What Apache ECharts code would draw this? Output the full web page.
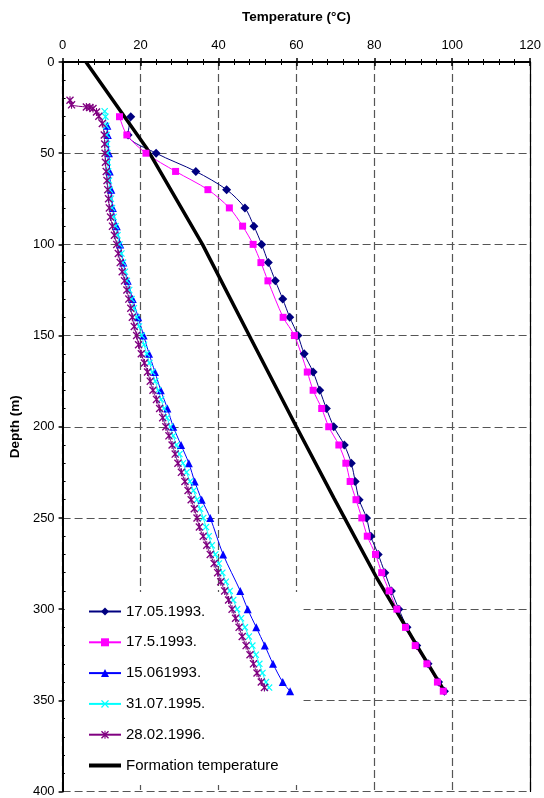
<!DOCTYPE html>
<html>
<head>
<meta charset="utf-8">
<script src="https://cdn.jsdelivr.net/npm/echarts@6/dist/echarts.min.js"></script>
<style>
  html, body { margin: 0; padding: 0; background: #fff; }
  #chart { width: 544px; height: 798px; }
</style>
</head>
<body>
<div id="chart"></div>
<script>
// Temperature logs (°C) against depth (m)
const xTicks = [0, 20, 40, 60, 80, 100, 120];
const yTicks = [0, 50, 100, 150, 200, 250, 300, 350, 400];

const seriesNames = ['17.05.1993.', '17.5.1993.', '15.061993.', '31.07.1995.', '28.02.1996.', 'Formation temperature'];

const depth1 = [30, 40, 50, 60, 70, 80, 90, 100, 110, 120, 130, 140, 150, 160, 170, 180, 190, 200, 210, 220, 230, 240, 250, 260, 270, 280, 290, 300, 310, 320, 330, 340, 345];
const temp1  = [17.5, 16.8, 24.0, 34.2, 42.1, 46.8, 49.1, 51.1, 52.8, 54.6, 56.5, 58.3, 60.4, 62.0, 64.3, 66.0, 67.7, 69.6, 72.3, 74.1, 75.1, 76.1, 78.0, 79.1, 81.0, 82.7, 84.4, 86.3, 88.4, 90.9, 93.8, 96.5, 98.0];

const depth2 = [30, 40, 50, 60, 70, 80, 90, 100, 110, 120, 140, 150, 170, 180, 190, 200, 210, 220, 230, 240, 250, 260, 270, 280, 290, 300, 310, 320, 330, 340, 345];
const temp2  = [14.6, 16.5, 21.4, 29.0, 37.3, 42.8, 46.2, 48.9, 50.9, 52.7, 56.6, 59.5, 62.8, 64.3, 66.5, 68.3, 70.9, 72.7, 73.8, 75.3, 76.8, 78.2, 80.3, 81.9, 83.8, 85.8, 88.0, 90.5, 93.5, 96.2, 97.7];

const depth3 = [35, 40, 50, 60, 70, 80, 90, 100, 110, 120, 130, 140, 150, 160, 170, 180, 190, 200, 210, 220, 230, 240, 250, 270, 290, 300, 310, 320, 330, 340, 345];
const temp3  = [11.5, 11.6, 11.9, 12.1, 12.5, 12.9, 13.9, 14.8, 15.6, 16.7, 18.0, 19.4, 20.8, 22.2, 23.7, 25.2, 26.9, 28.4, 30.4, 32.4, 33.9, 35.7, 37.9, 41.2, 45.6, 47.5, 49.7, 51.9, 54.0, 56.5, 58.4];

const depth4 = [27, 30, 35, 40, 45, 50, 55, 60, 65, 70, 75, 80, 85, 90, 95, 100, 105, 110, 115, 120, 125, 130, 135, 140, 145, 150, 155, 160, 165, 170, 175, 180, 185, 190, 195, 200, 205, 210, 215, 220, 225, 230, 235, 240, 245, 250, 255, 260, 265, 270, 275, 280, 285, 290, 295, 300, 305, 310, 315, 320, 325, 330, 335, 340, 343];
const temp4  = [10.8, 11.0, 11.2, 11.3, 11.4, 11.5, 11.6, 11.7, 11.9, 12.1, 12.4, 12.7, 13.1, 13.6, 14.1, 14.6, 15.1, 15.5, 16.0, 16.5, 17.1, 17.7, 18.3, 19.0, 19.6, 20.3, 20.9, 21.6, 22.3, 23.0, 23.8, 24.5, 25.3, 26.0, 26.8, 27.6, 28.4, 29.2, 30.0, 30.9, 31.8, 32.7, 33.6, 34.5, 35.3, 36.1, 36.8, 37.5, 38.3, 39.2, 40.1, 41.0, 41.9, 42.9, 43.8, 44.8, 45.8, 46.8, 47.8, 48.7, 49.6, 50.5, 51.3, 52.2, 53.0];

const depth5 = [21, 23.5, 24.7, 25, 25.5, 27.4, 29.7, 33.7, 40, 45, 50, 55, 60, 65, 70, 75, 80, 85, 90, 95, 100, 105, 110, 115, 120, 125, 130, 135, 140, 145, 150, 155, 160, 165, 170, 175, 180, 185, 190, 195, 200, 205, 210, 215, 220, 225, 230, 235, 240, 245, 250, 255, 260, 265, 270, 275, 280, 285, 290, 295, 300, 305, 310, 315, 320, 325, 330, 335, 340, 343];
const temp5  = [1.9, 2.3, 6.1, 7.0, 7.8, 8.7, 9.3, 10.2, 10.7, 10.8, 10.9, 11.0, 11.2, 11.4, 11.6, 11.8, 12.0, 12.3, 12.8, 13.3, 13.9, 14.3, 14.8, 15.3, 15.9, 16.5, 17.0, 17.5, 17.9, 18.4, 19.0, 19.5, 20.2, 21.0, 21.8, 22.5, 23.2, 24.1, 24.9, 25.7, 26.5, 27.3, 28.1, 28.9, 29.6, 30.5, 31.4, 32.2, 33.0, 33.8, 34.5, 35.1, 36.1, 37.0, 37.9, 38.9, 39.8, 40.6, 41.6, 42.6, 43.5, 44.4, 45.3, 46.1, 47.1, 48.1, 49.0, 49.9, 51.0, 51.8];

const depthF = [0, 47, 100, 152, 200, 239, 282, 321, 345];
const tempF  = [6.0, 21.5, 35.9, 48.4, 60.0, 69.6, 80.4, 91.2, 98.0];

const FONT = '"Liberation Sans", Arial, sans-serif';
const pairs = (t, d) => t.map((v, i) => [v, d[i]]);

const crossMark = 'path://M0,1.2L1.2,0L5,3.8L8.8,0L10,1.2L6.2,5L10,8.8L8.8,10L5,6.2L1.2,10L0,8.8L3.8,5Z';
const starMark = 'path://M0,1.2L1.2,0L5,3.8L8.8,0L10,1.2L6.2,5L10,8.8L8.8,10L5,6.2L1.2,10L0,8.8L3.8,5Z M4.3,0L5.7,0L5.7,10L4.3,10Z';

function logSeries(name, data, color, symbol, size) {
  return {
    type: 'line', name, data, xAxisIndex: 0, yAxisIndex: 0,
    symbol, symbolSize: size, smooth: 0.3,
    lineStyle: { color, width: 1 },
    itemStyle: { color },
    animation: false
  };
}

// legend keys: thin coloured line with marker; plain thick line for the formation curve
const legendItems = seriesNames.map((name, i) => (
  i === 5
    ? { name, lineStyle: { width: 4, color: '#000' }, itemStyle: { color: 'rgba(0,0,0,0)', borderWidth: 0, opacity: 0 } }
    : { name, lineStyle: { width: 2 } }
));

const chart = echarts.init(document.getElementById('chart'), null, { renderer: 'canvas' });
chart.setOption({
  backgroundColor: '#fff',
  animation: false,
  textStyle: { fontFamily: FONT },
  grid: { left: 62, right: 9, top: 62, bottom: 4, containLabel: false },
  legend: {
    data: legendItems,
    orient: 'vertical',
    left: 65, top: 592,
    padding: [12, 25, 12, 22],
    itemWidth: 32, itemHeight: 10, itemGap: 15.8,
    backgroundColor: '#fff',
    z: 1,
    selectedMode: false,
    textStyle: { fontSize: 15, color: '#000', fontFamily: FONT }
  },
  xAxis: [
    {
      type: 'value', position: 'top', min: xTicks[0], max: xTicks[xTicks.length - 1], interval: 20,
      name: 'Temperature (°C)', nameLocation: 'middle', nameGap: 38,
      nameTextStyle: { fontWeight: 'bold', fontSize: 13.5, color: '#000', fontFamily: FONT },
      axisLine: { show: true, onZero: false, lineStyle: { color: '#000', width: 2 } },
      axisTick: { show: true, length: 4, lineStyle: { color: '#000', width: 1.5 } },
      minorTick: { show: true, splitNumber: 5, length: 3, lineStyle: { color: '#000', width: 1 } },
      axisLabel: { fontSize: 13, color: '#000', margin: 10, fontFamily: FONT },
      splitLine: { show: true, lineStyle: { color: '#555', type: [8, 4], width: 1.2 } }
    },
    {
      type: 'value', position: 'top', min: 0, max: 120, interval: 20,
      axisLine: { show: false },
      axisTick: { show: true, inside: true, length: 4, lineStyle: { color: '#000', width: 1.5 } },
      minorTick: { show: true, splitNumber: 5, length: 3, lineStyle: { color: '#000', width: 1 } },
      axisLabel: { show: false },
      splitLine: { show: false }
    }
  ],
  yAxis: [
    {
      type: 'value', inverse: true, min: yTicks[0], max: yTicks[yTicks.length - 1], interval: 50,
      name: 'Depth (m)', nameLocation: 'middle', nameGap: 36, nameRotate: 90,
      nameTextStyle: { fontWeight: 'bold', fontSize: 13.5, color: '#000', fontFamily: FONT },
      axisLine: { show: true, onZero: false, lineStyle: { color: '#000', width: 2 } },
      axisTick: { show: true, length: 4, lineStyle: { color: '#000', width: 1.5 } },
      axisLabel: { fontSize: 13, color: '#000', margin: 8, fontFamily: FONT },
      splitLine: { show: true, lineStyle: { color: '#555', type: [8, 4], width: 1.2 } }
    },
    {
      type: 'value', inverse: true, min: 0, max: 400, interval: 50, position: 'left',
      axisLine: { show: false },
      axisTick: { show: false, inside: true },
      minorTick: { show: true, splitNumber: 5, length: 3, lineStyle: { color: '#000', width: 1 } },
      axisLabel: { show: false },
      splitLine: { show: false }
    },
    {
      type: 'value', inverse: true, min: 0, max: 400, interval: 50, position: 'right',
      axisLine: { show: true, onZero: false, lineStyle: { color: '#000', width: 1.2 } },
      axisTick: { show: false },
      axisLabel: { show: false },
      splitLine: { show: false }
    }
  ],
  series: [
    logSeries(seriesNames[0], pairs(temp1, depth1), '#000080', 'diamond', 9),
    logSeries(seriesNames[1], pairs(temp2, depth2), '#FF00FF', 'rect', 7),
    logSeries(seriesNames[2], pairs(temp3, depth3), '#0000FF', 'triangle', 8),
    logSeries(seriesNames[3], pairs(temp4, depth4), '#00FFFF', crossMark, 7),
    logSeries(seriesNames[4], pairs(temp5, depth5), '#800080', starMark, 8),
    {
      type: 'line', name: seriesNames[5], data: pairs(tempF, depthF),
      xAxisIndex: 0, yAxisIndex: 0, symbol: 'none', smooth: false,
      lineStyle: { color: '#000', width: 3.5 },
      itemStyle: { color: '#000' },
      animation: false
    }
  ]
});
</script>
</body>
</html>
